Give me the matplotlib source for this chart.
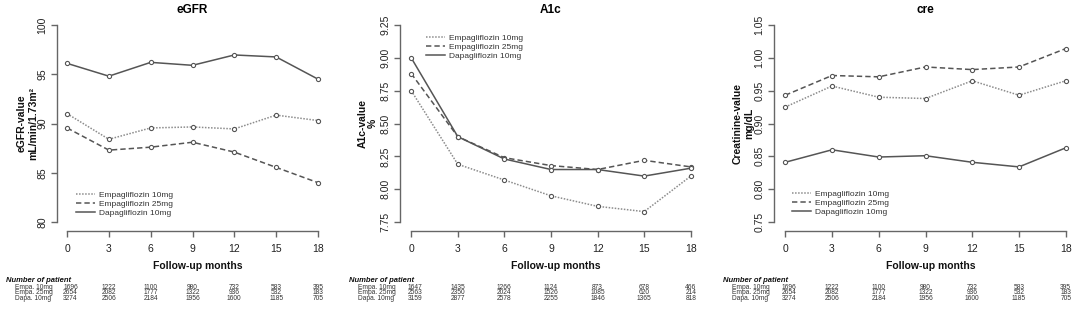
import matplotlib.pyplot as plt
from matplotlib.lines import Line2D
import matplotlib.transforms as mtransforms

plt.rcParams['font.family'] = ['Liberation Sans', 'DejaVu Sans']

months = [0, 3, 6, 9, 12, 15, 18]
series_names = ['Empagliflozin 10mg', 'Empagliflozin 25mg', 'Dapagliflozin 10mg']
row_labels = ['Empa. 10mg', 'Empa. 25mg', 'Dapa. 10mg']

# eGFR panel
egfr_empa10 = [91.0, 88.4, 89.55, 89.65, 89.45, 90.85, 90.3]
egfr_empa25 = [89.55, 87.3, 87.6, 88.1, 87.1, 85.55, 84.0]
egfr_dapa10 = [96.1, 94.8, 96.2, 95.9, 96.95, 96.75, 94.5]
egfr_n_empa10 = [1696, 1222, 1100, 980, 732, 583, 395]
egfr_n_empa25 = [2654, 2082, 1777, 1322, 936, 532, 183]
egfr_n_dapa10 = [3274, 2506, 2184, 1956, 1600, 1185, 705]

# A1c panel
a1c_empa10 = [8.75, 8.19, 8.07, 7.95, 7.87, 7.83, 8.10]
a1c_empa25 = [8.88, 8.40, 8.24, 8.18, 8.15, 8.22, 8.17]
a1c_dapa10 = [9.00, 8.40, 8.23, 8.15, 8.15, 8.10, 8.16]
a1c_n_empa10 = [1647, 1435, 1266, 1124, 873, 678, 466]
a1c_n_empa25 = [2563, 2350, 2024, 1526, 1085, 620, 214]
a1c_n_dapa10 = [3159, 2877, 2578, 2255, 1846, 1365, 818]

# creatinine panel
cre_empa10 = [0.925, 0.957, 0.940, 0.938, 0.965, 0.943, 0.965]
cre_empa25 = [0.943, 0.973, 0.971, 0.986, 0.982, 0.986, 1.014]
cre_dapa10 = [0.841, 0.860, 0.849, 0.851, 0.841, 0.834, 0.863]
cre_n_empa10 = [1696, 1222, 1100, 980, 732, 583, 395]
cre_n_empa25 = [2654, 2082, 1777, 1322, 936, 532, 183]
cre_n_dapa10 = [3274, 2506, 2184, 1956, 1600, 1185, 705]

W, H = 1084, 309
fig = plt.figure(figsize=(W / 100, H / 100), dpi=100)

line_styles = [(0, (1, 1)), (0, (3.5, 2)), '-']
line_colors = ['#8c8c8c', '#555555', '#555555']
axis_col = '#666666'


def fx(x):
    return x / W


def fy(y):
    return 1 - y / H


def make_panel(left, right, title, yticks, yfmt, data, legend_anchor):
    top, bottom = 17, 230
    ax = fig.add_axes([fx(left), fy(bottom), fx(right - left), (bottom - top) / H])
    ymin, ymax = yticks[0], yticks[-1]
    pad = (ymax - ymin) * 0.04
    ax.set_xlim(-0.72, 18.72)
    ax.set_ylim(ymin - pad, ymax + pad)

    for vals, ls, col in zip(data, line_styles, line_colors):
        ax.plot(months, vals, linestyle=ls, color=col, lw=1.1,
                marker='o', ms=3.0, mfc='white', mec='#555555', mew=0.8)

    for s in ['top', 'right']:
        ax.spines[s].set_visible(False)
    ax.spines['left'].set_bounds(ymin, ymax)
    ax.spines['bottom'].set_bounds(0, 18)
    ax.spines['bottom'].set_position(('outward', 1))
    for s in ['left', 'bottom']:
        ax.spines[s].set_color(axis_col)
        ax.spines[s].set_linewidth(1.0)
    ax.set_xticks(months)
    ax.set_yticks(yticks)
    ax.set_yticklabels([yfmt.format(v) for v in yticks])
    ax.tick_params(axis='both', colors=axis_col, length=4, width=1.0,
                   labelcolor='#222222', labelsize=7.5)
    ax.tick_params(axis='x', pad=5)
    ax.tick_params(axis='y', labelrotation=90, pad=3)
    for lab in ax.get_yticklabels():
        lab.set_va('center')

    ax.set_title(title, fontsize=8.5, fontweight='bold', pad=3)

    handles = [Line2D([0], [0], linestyle=ls, color=col, lw=1.1)
               for ls, col in zip(line_styles, line_colors)]
    ax.legend(handles, series_names, loc='upper left', frameon=False, fontsize=6,
              handlelength=2.2, handletextpad=0.5, labelspacing=0.15,
              borderaxespad=0.0, bbox_to_anchor=legend_anchor,
              bbox_transform=fig.transFigure, labelcolor='#333333')
    return ax


panels = [
    (57, 328, 'eGFR', ['eGFR-value', 'mL/min/1.73m²'], [80, 85, 90, 95, 100], '{:.0f}',
     [egfr_empa10, egfr_empa25, egfr_dapa10],
     [egfr_n_empa10, egfr_n_empa25, egfr_n_dapa10], (73, 188), [22, 33]),
    (400, 702, 'A1c', ['A1c-value', '%'], [7.75, 8.0, 8.25, 8.5, 8.75, 9.0, 9.25], '{:.2f}',
     [a1c_empa10, a1c_empa25, a1c_dapa10],
     [a1c_n_empa10, a1c_n_empa25, a1c_n_dapa10], (423, 31), [363, 373]),
    (774, 1077, 'cre', ['Creatinine-value', 'mg/dL'],
     [0.75, 0.80, 0.85, 0.90, 0.95, 1.00, 1.05], '{:.2f}',
     [cre_empa10, cre_empa25, cre_dapa10],
     [cre_n_empa10, cre_n_empa25, cre_n_dapa10], (789, 187), [738, 749]),
]

for left, right, title, ylab, yticks, yfmt, data, counts, lpos, ylab_x in panels:
    ax = make_panel(left, right, title, yticks, yfmt, data, (fx(lpos[0]), fy(lpos[1])))

    mid = (17 + 230) / 2
    for line_txt, xx in zip(ylab, ylab_x):
        fig.text(fx(xx), fy(mid), line_txt, rotation=90, ha='center', va='center',
                 fontsize=7.5, fontweight='bold', color='#111111')

    # x label
    fig.text(fx((left + right) / 2 + 5), fy(266), 'Follow-up months', ha='center',
             va='center', fontsize=7.5, fontweight='bold', color='#111111')

    # number at risk table
    fig.text(fx(left - 51), fy(280), 'Number of patient', ha='left', va='center',
             fontsize=5.5, fontweight='bold', style='italic', color='#111111')
    trans = mtransforms.blended_transform_factory(ax.transData, fig.transFigure)
    for r, (rl, row) in enumerate(zip(row_labels, counts)):
        yy = fy(287.5 + r * 5.5)
        fig.text(fx(left - 42), yy, rl, ha='left', va='center', fontsize=4.8,
                 color='#333333')
        for m, n in zip(months, row):
            ax.text(m + (0.25 if m == 0 else 0), yy, str(n), transform=trans,
                    ha='center', va='center', fontsize=4.8, color='#333333')

fig.savefig('out.png', dpi=100)
